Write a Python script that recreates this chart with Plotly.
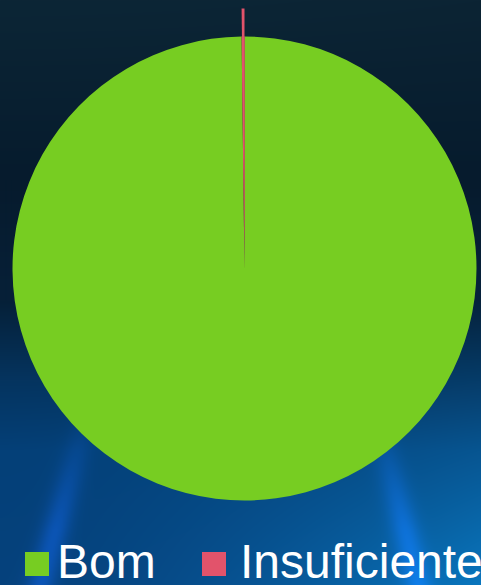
import base64
import struct
import zlib

import numpy as np
import plotly.graph_objects as go

# ---------------- data ----------------
labels = ["Bom", "Insuficiente"]
values = [99.8, 0.2]
colors = ["#77cd22", "#e2536b"]

W, H = 481, 585


# ---------------- background image (decoration only) ----------------
def make_background(w, h):
    ys = np.arange(h)[:, None].astype(float)
    xs = np.arange(w)[None, :].astype(float)
    stops_y = [0, 180, 300, 380, 450, 585]
    left = np.array([[12, 38, 54], [6, 27, 45], [6, 32, 56], [5, 52, 95], [4, 64, 120], [6, 66, 125]], float)
    right = np.array([[12, 36, 52], [6, 27, 45], [6, 34, 60], [6, 60, 105], [7, 85, 145], [10, 118, 190]], float)
    yy = np.arange(h).astype(float)
    lc = np.stack([np.interp(yy, stops_y, left[:, c]) for c in range(3)], axis=1)
    rc = np.stack([np.interp(yy, stops_y, right[:, c]) for c in range(3)], axis=1)
    t = (xs / (w - 1))[..., None] ** 1.6
    img = lc[:, None, :] * (1 - t) + rc[:, None, :] * t
    ray_mask = np.clip((ys - 400) / 130, 0, 1)
    for (x0, y0, x1, y1) in [(82, 430, 40, 585), (383, 440, 418, 585)]:
        cx_ = x0 + (x1 - x0) * (ys - y0) / (y1 - y0)
        d = np.abs(xs - cx_)
        inten = np.exp(-(d / 14) ** 2) * ray_mask
        img = img + inten[..., None] * np.array([6, 18, 55])[None, None, :]
    img = np.clip(img, 0, 255).astype(np.uint8)
    raw = b"".join(b"\x00" + img[r].tobytes() for r in range(h))

    def chunk(tag, data):
        c = struct.pack(">I", len(data)) + tag + data
        return c + struct.pack(">I", zlib.crc32(tag + data) & 0xFFFFFFFF)

    png = b"\x89PNG\r\n\x1a\n"
    png += chunk(b"IHDR", struct.pack(">IIBBBBB", w, h, 8, 2, 0, 0, 0))
    png += chunk(b"IDAT", zlib.compress(raw, 9))
    png += chunk(b"IEND", b"")
    return "data:image/png;base64," + base64.b64encode(png).decode()


bg = make_background(W, H)

# pie geometry (pixels)
cx, cy, r = 244.5, 268.5, 232.0
pull_px = 28.0


def dom(cx_, cy_, r_):
    return dict(x=[(cx_ - r_) / W, (cx_ + r_) / W], y=[1 - (cy_ + r_) / H, 1 - (cy_ - r_) / H])


fig = go.Figure()
fig.add_trace(go.Pie(
    labels=labels, values=values, sort=False, direction="clockwise", rotation=0,
    marker=dict(colors=colors, line=dict(width=0)),
    textinfo="none", hoverinfo="label+percent", domain=dom(cx, cy, r),
    showlegend=False,
))
# exploded small slice
fig.add_trace(go.Pie(
    labels=labels, values=values, sort=False, direction="clockwise", rotation=0,
    marker=dict(colors=["rgba(0,0,0,0)", colors[1]], line=dict(width=0)),
    textinfo="none", hoverinfo="label+percent", domain=dom(cx, cy - pull_px, r),
    showlegend=False,
))

# legend (squares + labels) at the bottom
legend_sq_x = [25, 202]
legend_txt_x = [55, 238]
shapes = []
annotations = []
for i, lab in enumerate(labels):
    shapes.append(dict(type="rect", xref="paper", yref="paper",
                       x0=legend_sq_x[i] / W, x1=(legend_sq_x[i] + 24) / W,
                       y0=1 - 576 / H, y1=1 - 552 / H,
                       fillcolor=colors[i], line=dict(width=0), layer="above"))
    annotations.append(dict(text=lab, xref="paper", yref="paper",
                            x=legend_txt_x[i] / W, y=1 - 561 / H,
                            xanchor="left", yanchor="middle", showarrow=False,
                            font=dict(family="Liberation Sans, Arial, sans-serif", size=48, color="#ffffff")))

fig.update_layout(
    width=W, height=H,
    margin=dict(l=0, r=0, t=0, b=0),
    paper_bgcolor="#0b2436",
    plot_bgcolor="rgba(0,0,0,0)",
    showlegend=False,
    images=[dict(source=bg, xref="paper", yref="paper", x=0, y=1, sizex=1, sizey=1,
                 sizing="stretch", layer="below", xanchor="left", yanchor="top")],
    shapes=shapes,
    annotations=annotations,
)

fig.write_html("out.html", config={"displayModeBar": False},
               post_script="document.body.style.margin='0';")
